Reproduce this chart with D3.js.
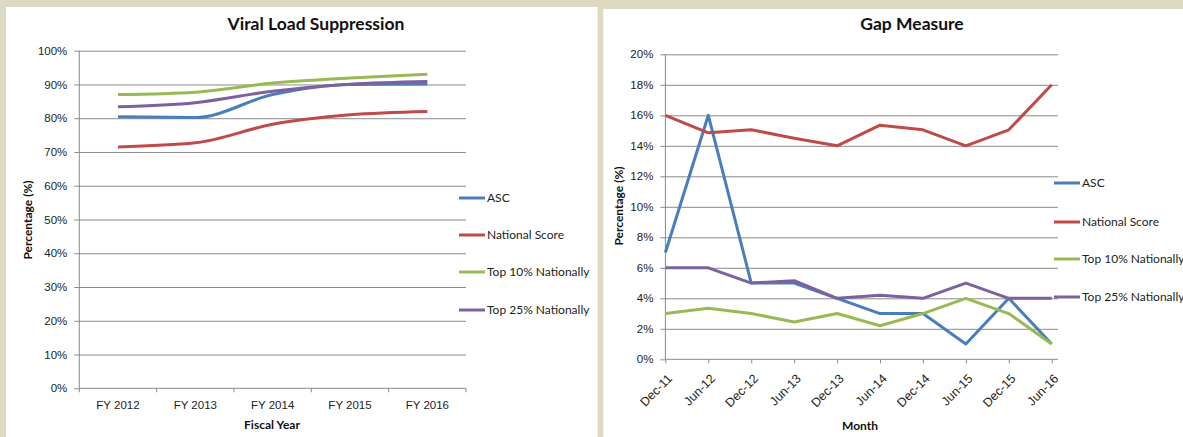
<!DOCTYPE html>
<html>
<head>
<meta charset="utf-8">
<script src="https://cdn.jsdelivr.net/npm/d3@7"></script>
<style>
  body { margin: 0; background: #ddd8c1; }
  svg { display: block; font-family: Lato, "Open Sans", sans-serif; }
  .axis text { font-size: 11.5px; fill: #222; }
  .axis path, .axis line { stroke: #8a8a8a; }
  .grid line { stroke: #8a8a8a; }
  .grid path { display: none; }
</style>
</head>
<body>
<svg id="charts" width="1183" height="437"></svg>
<script>
const seriesNames = ["ASC", "National Score", "Top 10% Nationally", "Top 25% Nationally"];
const colors = ["#4a7ebb", "#be4b48", "#98b954", "#7d60a0"];

// Viral Load Suppression (percent)
const fiscalYears = ["FY 2012", "FY 2013", "FY 2014", "FY 2015", "FY 2016"];
const vlsAsc = [80.4, 80.2, 87.0, 90.0, 90.1];
const vlsNational = [71.5, 72.7, 78.2, 81.0, 82.0];
const vlsTop10 = [87.0, 87.7, 90.4, 91.9, 93.0];
const vlsTop25 = [83.4, 84.6, 88.0, 90.1, 90.9];

// Gap Measure (percent)
const months = ["Dec-11", "Jun-12", "Dec-12", "Jun-13", "Dec-13", "Jun-14", "Dec-14", "Jun-15", "Dec-15", "Jun-16"];
const gapAsc = [7, 16, 5, 5, 4, 3, 3, 1, 4, 1];
const gapNational = [16, 14.85, 15.05, 14.5, 14, 15.35, 15.05, 14, 15.05, 18];
const gapTop10 = [3, 3.35, 3, 2.45, 3, 2.2, 3, 4, 3, 1];
const gapTop25 = [6, 6, 5, 5.15, 4, 4.2, 4, 5, 4, 4];

const yTicksLeft = [0, 10, 20, 30, 40, 50, 60, 70, 80, 90, 100];
const yTicksRight = [0, 2, 4, 6, 8, 10, 12, 14, 16, 18, 20];

const svg = d3.select("#charts");

// white panels
svg.append("rect").attr("x", 6).attr("y", 7).attr("width", 591.7).attr("height", 430).attr("fill", "#fff");
svg.append("rect").attr("x", 603.3).attr("y", 9).attr("width", 580).attr("height", 428).attr("fill", "#fff");

const drawLegend = (x0, ys) => {
  const lg = svg.append("g");
  seriesNames.forEach((name, i) => {
    lg.append("line")
        .attr("x1", x0).attr("x2", x0 + 26)
        .attr("y1", ys[i]).attr("y2", ys[i])
        .attr("stroke", colors[i])
        .attr("stroke-width", 3);
    lg.append("text")
        .attr("x", x0 + 28).attr("y", ys[i])
        .attr("dy", "0.35em")
        .attr("font-size", 12)
        .attr("fill", "#222")
        .text(name);
  });
};

const drawTitles = (title, tx, ty, xTitle, xx, xy, yx, yy) => {
  svg.append("text")
      .attr("x", tx).attr("y", ty)
      .attr("text-anchor", "middle")
      .attr("dy", "0.35em")
      .attr("font-size", 17.5)
      .attr("font-weight", "bold")
      .attr("fill", "#111")
      .text(title);
  svg.append("text")
      .attr("x", xx).attr("y", xy)
      .attr("text-anchor", "middle")
      .attr("dy", "0.35em")
      .attr("font-size", 12)
      .attr("font-weight", "bold")
      .attr("fill", "#111")
      .text(xTitle);
  svg.append("text")
      .attr("transform", `translate(${yx},${yy}) rotate(-90)`)
      .attr("text-anchor", "middle")
      .attr("dy", "0.35em")
      .attr("font-size", 12)
      .attr("font-weight", "bold")
      .attr("fill", "#111")
      .text("Percentage (%)");
};

// ---- Viral Load Suppression ----
{
  const left = 79.3, right = 466, top = 50.7, bottom = 388.3;
  const x = d3.scaleBand().domain(fiscalYears).range([left, right]);
  const y = d3.scaleLinear().domain([0, 100]).range([bottom, top]);

  svg.append("g")
      .attr("class", "grid")
      .attr("transform", `translate(${left},0)`)
      .call(d3.axisLeft(y).tickValues(yTicksLeft.slice(1)).tickSize(-(right - left)).tickFormat(""));

  svg.append("g")
      .attr("class", "axis")
      .attr("transform", `translate(${left},0)`)
      .call(d3.axisLeft(y).tickValues(yTicksLeft).tickSize(5).tickPadding(7).tickFormat(d => d + "%"))
      .call(g => g.select(".domain").attr("d", `M0,${bottom}V${top}`));

  const xAxis = svg.append("g")
      .attr("class", "axis")
      .attr("transform", `translate(0,${bottom})`)
      .call(d3.axisBottom(x).tickSize(0).tickPadding(13))
      .call(g => g.select(".domain").attr("d", `M${left},0H${right}`));

  // tick marks on category boundaries
  xAxis.selectAll(".bound")
    .data(fiscalYears.map(d => x(d)).concat([right]))
    .enter().append("line")
      .attr("x1", d => d).attr("x2", d => d)
      .attr("y1", 0).attr("y2", 4)
      .attr("stroke", "#8a8a8a");

  const line = d3.line()
      .x((d, i) => x(fiscalYears[i]) + x.bandwidth() / 2)
      .y(d => y(d))
      .curve(d3.curveMonotoneX);

  [vlsAsc, vlsNational, vlsTop10, vlsTop25].forEach((values, i) => {
    svg.append("path")
        .datum(values)
        .attr("d", line)
        .attr("fill", "none")
        .attr("stroke", colors[i])
        .attr("stroke-width", 3)
        .attr("stroke-linejoin", "round");
  });

  drawLegend(459, [198, 235, 272, 310]);
  drawTitles("Viral Load Suppression", 316, 24, "Fiscal Year", 272, 425, 28, 220);
}

// ---- Gap Measure ----
{
  const left = 665.4, right = 1058, pointEnd = 1051.7, top = 54.3, bottom = 359.3;
  const x = d3.scalePoint().domain(months).range([left, pointEnd]);
  const y = d3.scaleLinear().domain([0, 20]).range([bottom, top]);

  svg.append("g")
      .attr("class", "grid")
      .attr("transform", `translate(${left},0)`)
      .call(d3.axisLeft(y).tickValues(yTicksRight.slice(1)).tickSize(-(right - left)).tickFormat(""));

  svg.append("g")
      .attr("class", "axis")
      .attr("transform", `translate(${left},0)`)
      .call(d3.axisLeft(y).tickValues(yTicksRight).tickSize(5).tickPadding(7).tickFormat(d => d + "%"))
      .call(g => g.select(".domain").attr("d", `M0,${bottom}V${top}`));

  svg.append("g")
      .attr("class", "axis")
      .attr("transform", `translate(0,${bottom})`)
      .call(d3.axisBottom(x).tickSize(4))
      .call(g => g.select(".domain").attr("d", `M${left},0H${right}`))
      .call(g => g.selectAll(".tick text")
          .attr("x", 0).attr("y", 0)
          .attr("dy", "0.35em")
          .style("font-size", "12.5px")
          .attr("text-anchor", "end")
          .attr("transform", "translate(4,17) rotate(-45)"));

  const line = d3.line()
      .x((d, i) => x(months[i]))
      .y(d => y(d));

  [gapAsc, gapNational, gapTop10, gapTop25].forEach((values, i) => {
    svg.append("path")
        .datum(values)
        .attr("d", line)
        .attr("fill", "none")
        .attr("stroke", colors[i])
        .attr("stroke-width", 3)
        .attr("stroke-linejoin", "round");
  });

  drawLegend(1054, [183, 222, 259, 297]);
  drawTitles("Gap Measure", 912, 24, "Month", 860, 426, 618.5, 206);
}
</script>
</body>
</html>
